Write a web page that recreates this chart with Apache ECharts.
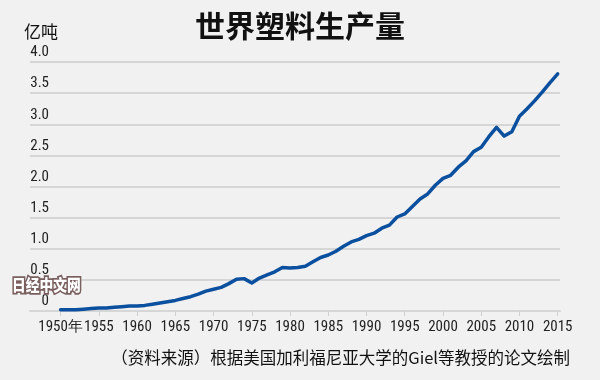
<!DOCTYPE html>
<html>
<head>
<meta charset="utf-8">
<script src="https://cdn.jsdelivr.net/npm/echarts@6/dist/echarts.min.js"></script>
<style>
html,body{margin:0;padding:0;background:#f1f1f1;}
#c{width:600px;height:380px;}
</style>
</head>
<body>
<div id="c"></div>
<script>
const years = [1950,1951,1952,1953,1954,1955,1956,1957,1958,1959,1960,1961,1962,1963,1964,1965,1966,1967,1968,1969,1970,1971,1972,1973,1974,1975,1976,1977,1978,1979,1980,1981,1982,1983,1984,1985,1986,1987,1988,1989,1990,1991,1992,1993,1994,1995,1996,1997,1998,1999,2000,2001,2002,2003,2004,2005,2006,2007,2008,2009,2010,2011,2012,2013,2014,2015];
const production = [0.02,0.02,0.02,0.03,0.04,0.05,0.05,0.06,0.07,0.08,0.08,0.09,0.11,0.13,0.15,0.17,0.20,0.23,0.27,0.32,0.35,0.38,0.44,0.51,0.52,0.45,0.53,0.58,0.63,0.70,0.69,0.70,0.72,0.79,0.86,0.90,0.96,1.04,1.11,1.15,1.21,1.25,1.33,1.38,1.51,1.56,1.68,1.80,1.88,2.02,2.13,2.18,2.31,2.41,2.56,2.63,2.80,2.95,2.81,2.88,3.13,3.25,3.38,3.52,3.67,3.81];
const xTicks = [1950,1955,1960,1965,1970,1975,1980,1985,1990,1995,2000,2005,2010,2015];
const yTicks = [0,0.5,1.0,1.5,2.0,2.5,3.0,3.5,4.0];

const numFont = '"Liberation Sans Narrow","Roboto Condensed",Roboto,sans-serif';
const cjkFont = '"Noto Sans CJK SC",sans-serif';

const chart = echarts.init(document.getElementById('c'), null, {renderer:'canvas'});
chart.setOption({
  backgroundColor:'#f1f1f1',
  animation:false,
  title:{
    text:'世界塑料生产量',
    left:'center', top:6,
    textStyle:{fontFamily:cjkFont,fontSize:30,fontWeight:'bold',color:'#111'}
  },
  grid:{left:30,right:40,top:62,bottom:69,containLabel:false},
  xAxis:{
    type:'value', min:1946, max:2015.3,
    axisLine:{show:true,lineStyle:{color:'#d6d6d6',width:2}},
    axisTick:{show:true,customValues:xTicks,length:5,lineStyle:{color:'#d0d0d0',width:1}},
    axisLabel:{customValues:xTicks,margin:9,fontFamily:numFont,fontSize:15,color:'#222',
      formatter:v=> v===1950 ? '1950年' : String(v)},
    splitLine:{show:false}
  },
  yAxis:{
    type:'value', min:0, max:4, interval:0.5,
    axisLine:{show:false}, axisTick:{show:false},
    axisLabel:{customValues:yTicks,margin:-19,align:'right',verticalAlign:'bottom',padding:[0,0,2,0],
      fontFamily:numFont,fontSize:15,color:'#222',
      formatter:v=> v===0 ? '0' : v.toFixed(1)},
    splitLine:{show:true,lineStyle:{color:'#d6d6d6',width:2}}
  },
  series:[{
    type:'line',
    data: years.map((y,i)=>[y,production[i]]),
    showSymbol:false, symbol:'none',
    lineStyle:{color:'#0b4f9f',width:3.5,cap:'round',join:'round'},
    z:5
  }],
  graphic:[
    {type:'text',left:24,top:23,style:{text:'亿吨',font:'17px '+cjkFont,fill:'#111'}},
    {type:'text',right:30,top:349,style:{text:'（资料来源）根据美国加利福尼亚大学的Giel等教授的论文绘制',font:'16.5px '+cjkFont,fill:'#111'}},
    {type:'text',x:12,y:277,scaleX:0.86,z:10,style:{text:'日经中文网',font:'900 16px '+cjkFont,fill:'#ffffff',stroke:'#7a5f5f',lineWidth:3.5}}
  ]
});
</script>
</body>
</html>
